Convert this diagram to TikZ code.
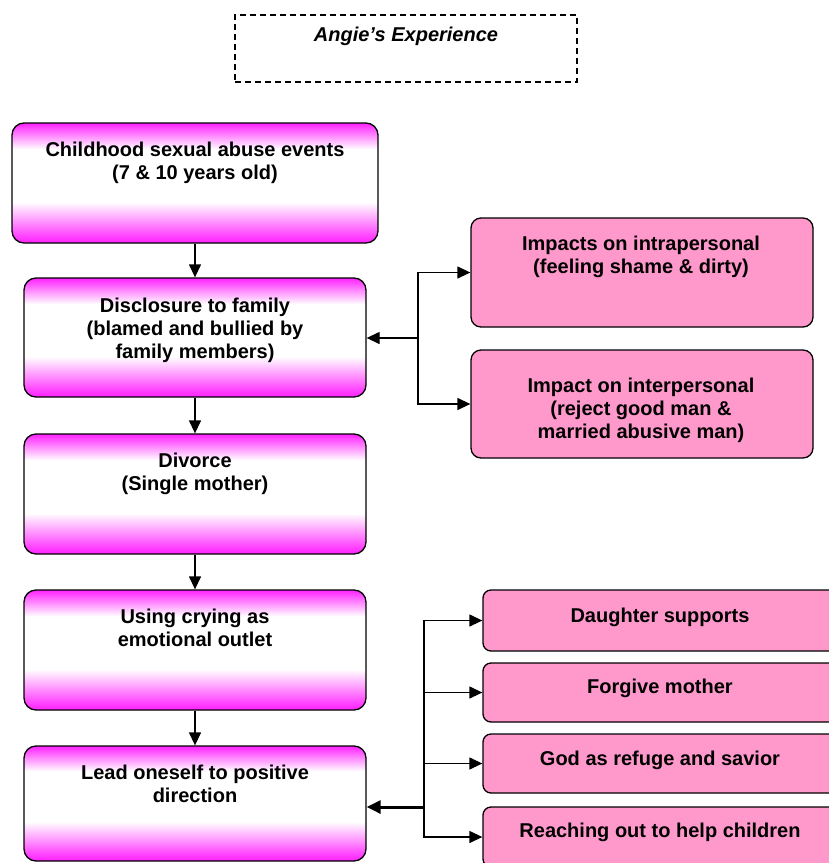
\documentclass[tikz,border=0pt]{standalone}
\usepackage{fontspec}
\setmainfont{Liberation Sans}
\usetikzlibrary{arrows.meta}

\definecolor{mag}{RGB}{255,34,255}
\definecolor{rosebox}{RGB}{255,153,204}

% magenta edges fading to a white band in the middle (bottom -> top)
\pgfdeclareverticalshading{fadebar}{100bp}{%
  color(0bp)=(mag); color(25bp)=(mag); color(28bp)=(mag!85!white);
  color(42bp)=(white); color(64bp)=(white); color(75bp)=(mag); color(100bp)=(mag)}

\tikzset{
  lbox/.style={draw, line width=1.3pt, rounded corners=12pt, shade, shading=fadebar,
               minimum width=342pt, inner sep=0pt},
  rbox/.style={draw, line width=1.3pt, rounded corners=10pt, fill=rosebox,
               minimum width=342pt, inner sep=0pt},
  sbox/.style={draw, line width=1.3pt, rounded corners=8pt, fill=rosebox,
               minimum width=387pt, inner sep=0pt},
  txt/.style={anchor=north, inner sep=0pt, align=center,
              font=\bfseries\fontsize{20}{23}\selectfont},
  arr/.style={-{Triangle[length=13pt,width=12pt]}, line width=1.3pt},
  link/.style={line width=1.3pt},
}

\begin{document}
\begin{tikzpicture}[x=1pt, y=-1pt]
\useasboundingbox (0,0) rectangle (829,863);

% title
\node[draw, line width=1.3pt, dash pattern=on 6pt off 4pt, minimum width=342pt,
      minimum height=67pt, inner sep=0pt] (title) at (406,48.5) {};
\node[txt, font=\bfseries\itshape\fontsize{20}{23}\selectfont] (titletxt) at (406,27.3) {Angie’s Experience};

% main sequence
\node[lbox, minimum width=366pt, minimum height=120pt] (b1) at (195,183) {};
\node[txt] (t1) at (195,141.4) {Childhood sexual abuse events\\(7 \& 10 years old)};

\node[lbox, minimum height=119pt] (b2) at (195,337.5) {};
\node[txt] (t2) at (195,297.4) {Disclosure to family\\(blamed and bullied by\\family members)};

\node[lbox, minimum height=120pt] (b3) at (195,494) {};
\node[txt] (t3) at (195,452.4) {Divorce\\(Single mother)};

\node[lbox, minimum height=120pt] (b4) at (195,650) {};
\node[txt] (t4) at (195,608.4) {Using crying as\\emotional outlet};

\node[lbox, minimum height=115pt] (b5) at (195,803.5) {};
\node[txt] (t5) at (195,764.4) {Lead oneself to positive\\direction};

\draw[arr] (b1) -- (b2);
\draw[arr] (b2) -- (b3);
\draw[arr] (b3) -- (b4);
\draw[arr] (b4) -- (b5);

% impacts of disclosure
\node[rbox, minimum height=109pt] (r1) at (642,272.5) {};
\node[txt] (rt1) at (641,235.4) {Impacts on intrapersonal\\(feeling shame \& dirty)};

\node[rbox, minimum height=108pt] (r2) at (642,404) {};
\node[txt] (rt2) at (641,377.4) {Impact on interpersonal\\(reject good man \&\\married abusive man)};

\coordinate (j1) at (418,338);
\draw[arr] (j1) -- (b2.east |- j1);
\draw[arr] (j1) |- (r1.west);
\draw[arr] (j1) |- (r2.west);

% sources of positive direction
\node[sbox, minimum height=61pt] (s1) at (676.5,620.5) {};
\node[txt] (st1) at (660,607.4) {Daughter supports};

\node[sbox, minimum height=59pt] (s2) at (676.5,692.5) {};
\node[txt] (st2) at (660,678.4) {Forgive mother};

\node[sbox, minimum height=59pt] (s3) at (676.5,763.5) {};
\node[txt] (st3) at (660,750.4) {God as refuge and savior};

\node[sbox, minimum height=60pt] (s4) at (676.5,837) {};
\node[txt] (st4) at (660,822.4) {Reaching out to help children};

\coordinate (j2) at (424,807);
\draw[-{Triangle[length=14pt,width=13pt]}, line width=3pt] (j2) -- (b5.east |- j2);
\draw[arr] (j2) |- (s1.west);
\draw[arr] (j2) |- (s2.west);
\draw[arr] (j2) |- (s3.west);
\draw[arr] (j2) |- (s4.west);
\end{tikzpicture}
\end{document}
